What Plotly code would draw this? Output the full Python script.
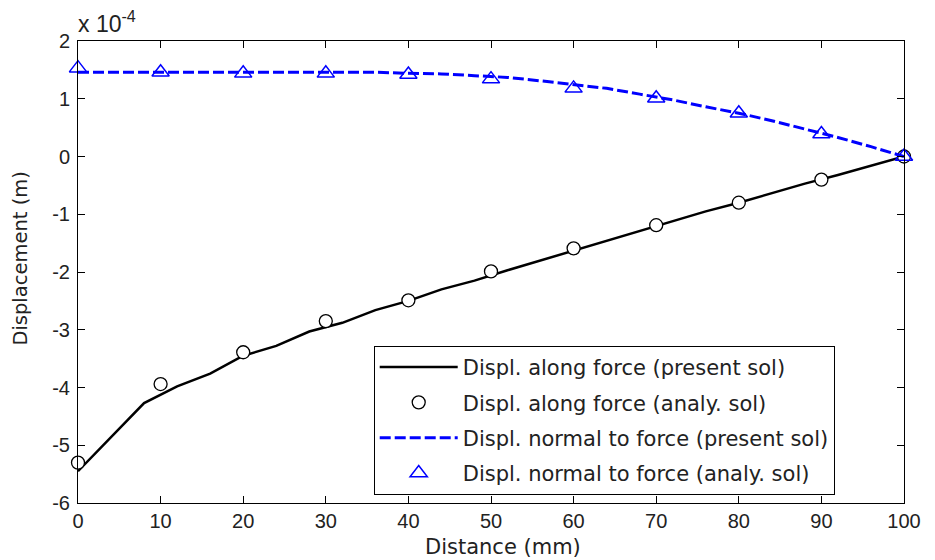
import plotly.graph_objects as go

# Data (displacement in units of 1e-4 m)
x_line = [0, 4, 8, 12, 16, 20, 24, 28, 32, 36, 40, 44, 48, 52, 56, 60, 64, 68, 72, 76, 80, 84, 88, 92, 96, 100]
along_present = [-5.45, -4.86, -4.27, -3.98, -3.76, -3.45, -3.28, -3.03, -2.88, -2.66, -2.50, -2.30, -2.15,
                 -1.97, -1.80, -1.62, -1.45, -1.28, -1.12, -0.95, -0.80, -0.63, -0.47, -0.32, -0.16, 0.0]
normal_present = [1.46, 1.46, 1.46, 1.46, 1.46, 1.46, 1.46, 1.46, 1.46, 1.46, 1.44, 1.43, 1.40,
                  1.37, 1.31, 1.24, 1.18, 1.08, 0.98, 0.86, 0.75, 0.62, 0.48, 0.33, 0.17, 0.0]

x_pts = [0, 10, 20, 30, 40, 50, 60, 70, 80, 90, 100]
along_analy = [-5.3, -3.94, -3.39, -2.85, -2.49, -1.99, -1.59, -1.19, -0.80, -0.40, 0.0]
normal_analy = [1.53, 1.46, 1.44, 1.44, 1.42, 1.34, 1.18, 1.01, 0.75, 0.39, 0.0]

x_ticks = [0, 10, 20, 30, 40, 50, 60, 70, 80, 90, 100]
y_ticks = [-6, -5, -4, -3, -2, -1, 0, 1, 2]
y_ticktext = ["-6", "-5", "-4", "-3", "-2", "-1", "0", "1", "2"]

TICKFONT = "Liberation Sans, Arial, Helvetica, sans-serif"
TEXTFONT = "DejaVu Sans, Liberation Sans, sans-serif"
TXT = "#222222"

fig = go.Figure()
fig.add_trace(go.Scatter(x=x_line, y=along_present, mode="lines",
                         line=dict(color="black", width=2.5),
                         name="Displ. along force (present sol)", legendgroup="a"))
fig.add_trace(go.Scatter(x=x_pts, y=along_analy, mode="markers", cliponaxis=False,
                         marker=dict(symbol="circle", size=13, color="white",
                                     line=dict(color="black", width=1.3)),
                         name="Displ. along force (analy. sol)", legendgroup="b"))
fig.add_trace(go.Scatter(x=x_line, y=normal_present, mode="lines",
                         line=dict(color="#0000ff", width=3, dash="11px,4px"),
                         name="Displ. normal to force (present sol)", legendgroup="c"))
fig.add_trace(go.Scatter(x=x_pts, y=normal_analy, mode="markers", cliponaxis=False,
                         marker=dict(symbol="triangle-up-open", size=15, color="#0000ff",
                                     line=dict(color="#0000ff", width=1.5)),
                         name="Displ. normal to force (analy. sol)", legendgroup="d"))

axis_common = dict(showline=True, linecolor="black", linewidth=1, mirror="ticks",
                   ticks="inside", ticklen=7, tickcolor="black", tickwidth=1,
                   showgrid=False, zeroline=False,
                   tickfont=dict(family=TICKFONT, size=20, color=TXT))

fig.update_layout(
    width=927, height=552,
    margin=dict(l=70, r=31, t=33, b=57),
    paper_bgcolor="white", plot_bgcolor="white",
    font=dict(family=TEXTFONT, color=TXT),
    xaxis=dict(range=[0, 100], tickvals=x_ticks, **axis_common),
    yaxis=dict(range=[-6, 2], tickvals=y_ticks, ticktext=y_ticktext,
               ticklabelstandoff=3, **axis_common),
    legend=dict(x=0.358, y=0.34, xanchor="left", yanchor="top",
                bgcolor="white", bordercolor="black", borderwidth=1,
                font=dict(family=TEXTFONT, size=21, color=TXT),
                itemwidth=78, traceorder="grouped", tracegroupgap=5),
    showlegend=True,
)

# axis titles
fig.add_annotation(x=0.5145, y=-0.0952, xref="paper", yref="paper", xanchor="center", yanchor="middle",
                   text="Distance (mm)", showarrow=False,
                   font=dict(family=TEXTFONT, size=21, color=TXT))
fig.add_annotation(x=-0.069, y=0.529, xref="paper", yref="paper", xanchor="center", yanchor="middle",
                   text="Displacement (m)", showarrow=False, textangle=-90, borderpad=0,
                   font=dict(family=TEXTFONT, size=19.5, color=TXT))
# exponent label
fig.add_annotation(x=-0.003, y=1.005, xref="paper", yref="paper", xanchor="left", yanchor="bottom",
                   text="x 10<sup>-4</sup>", showarrow=False,
                   font=dict(family=TICKFONT, size=23, color=TXT))

fig.write_html("out.html")
